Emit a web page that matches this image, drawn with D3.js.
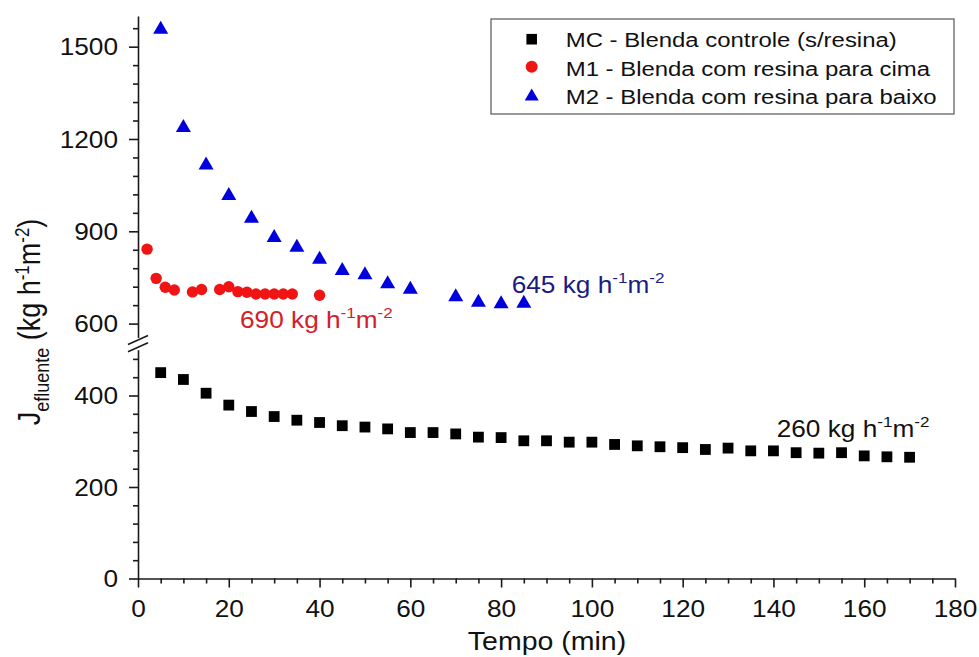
<!DOCTYPE html>
<html>
<head>
<meta charset="utf-8">
<script src="https://cdn.jsdelivr.net/npm/d3@7"></script>
<style>
  html, body { margin: 0; padding: 0; background: #fff; }
  svg { display: block; font-family: Arial, "Liberation Sans", sans-serif; }
</style>
</head>
<body>
<svg id="chart" width="979" height="657"></svg>
<script>
// ---------------- data ----------------
const mcTime = [5,10,15,20,25,30,35,40,45,50,55,60,65,70,75,80,85,90,95,100,105,110,115,120,125,130,135,140,145,150,155,160,165,170];
const mcFlux = [450,435,405,379,365,354,346,341,334,331,327,319,319,316,309,308,301,301,298,298,293,290,288,286,282,285,279,279,275,274,275,268,266,265];

const m1Time = [2,4,6,8,12,14,18,20,22,24,26,28,30,32,34,40];
const m1Flux = [842,747,718,709,703,711,711,720,704,702,696,696,696,696,696,692];

const m2Time = [5,10,15,20,25,30,35,40,45,50,55,60,70,75,80,85];
const m2Flux = [1556,1237,1115,1016,942,879,848,809,772,758,729,711,687,669,664,666];

const seriesNames = ["MC - Blenda controle (s/resina)", "M1 - Blenda com resina para cima", "M2 - Blenda com resina para baixo"];
const seriesColors = ["#000000", "#f01414", "#0000dd"];

const xTicks = [0,20,40,60,80,100,120,140,160,180];
const xMinorTicks = [5,10,15,25,30,35,45,50,55,65,70,75,85,90,95,105,110,115,125,130,135,145,150,155,165,170,175];
const yLowTicks = [0,200,400];
const yLowMinor = [40,80,120,160,240,280,320,360,440,480];
const yHighTicks = [600,900,1200,1500];
const yHighMinor = [660,720,780,840,960,1020,1080,1140,1260,1320,1380,1440,1560];

const annotations = [
  {value: "690", color: "#d42027"},
  {value: "645", color: "#1b1b82"},
  {value: "260", color: "#111111"}
];

// ---------------- layout ----------------
const SX = 1.14; // horizontal glyph stretch seen in the reference
const svg = d3.select("#chart");
svg.append("rect").attr("width", 979).attr("height", 657).attr("fill", "#fff");

const x = d3.scaleLinear().domain([0, 180]).range([138, 955]);
const yLow = d3.scaleLinear().domain([0, 500]).range([578.5, 349.75]);
const yHigh = d3.scaleLinear().domain([555, 1600]).range([337.45, 15.9]);
const yPos = v => (v >= 530 ? yHigh(v) : yLow(v));

const axisColor = "#1a1a1a";
const fmt = d3.format("d");

function styleAxis(g) {
  g.selectAll("path, line").attr("stroke", axisColor).attr("stroke-width", 1.6);
}

// X axis
const xAxisG = svg.append("g").attr("transform", `translate(0,${yLow(0)})`)
  .call(d3.axisBottom(x).tickValues(xTicks).tickFormat(fmt).tickSize(9).tickSizeOuter(0));
styleAxis(xAxisG);
xAxisG.selectAll("text")
  .attr("y", 0).attr("dy", 0)
  .attr("transform", `translate(0,38) scale(${SX},1)`)
  .attr("font-size", 23).attr("fill", "#111")
  .attr("font-family", "Arial, 'Liberation Sans', sans-serif");
const xMinorG = svg.append("g").attr("transform", `translate(0,${yLow(0)})`)
  .call(d3.axisBottom(x).tickValues(xMinorTicks).tickSize(5).tickFormat(""));
xMinorG.select(".domain").remove();
styleAxis(xMinorG);

// Y axes (broken)
function yAxisPart(scale, majors, minors) {
  const g = svg.append("g").attr("transform", `translate(${x(0)},0)`)
    .call(d3.axisLeft(scale).tickValues(majors).tickFormat(fmt).tickSize(9).tickSizeOuter(0));
  styleAxis(g);
  g.selectAll("text")
    .attr("x", 0).attr("dy", 0)
    .attr("transform", `translate(-20,8.3) scale(${SX},1)`)
    .attr("text-anchor", "end")
    .attr("font-size", 23).attr("fill", "#111")
    .attr("font-family", "Arial, 'Liberation Sans', sans-serif");
  const gm = svg.append("g").attr("transform", `translate(${x(0)},0)`)
    .call(d3.axisLeft(scale).tickValues(minors).tickSize(5).tickFormat(""));
  gm.select(".domain").remove();
  styleAxis(gm);
}
yAxisPart(yLow, yLowTicks, yLowMinor);
yAxisPart(yHigh, yHighTicks, yHighMinor);

// break marks
const breakG = svg.append("g");
[yHigh(555) + 2.5, yLow(500) - 2.5].forEach(yy => {
  breakG.append("line")
    .attr("x1", x(0) - 10).attr("y1", yy + 4.5)
    .attr("x2", x(0) + 10).attr("y2", yy - 4.5)
    .attr("stroke", axisColor).attr("stroke-width", 1.6);
});

// axis titles
svg.append("text")
  .attr("transform", `translate(547,650) scale(${SX},1)`)
  .attr("text-anchor", "middle")
  .attr("font-size", 25).attr("fill", "#111")
  .text("Tempo (min)");

const yTitle = svg.append("text")
  .attr("transform", `translate(40,322) scale(${SX},1) rotate(-90)`)
  .attr("text-anchor", "middle")
  .attr("font-size", 27).attr("fill", "#111");
yTitle.append("tspan").text("J");
yTitle.append("tspan").attr("font-size", 18).attr("dy", 8).text("efluente");
yTitle.append("tspan").attr("dy", -8).text(" (kg h");
yTitle.append("tspan").attr("font-size", 17).attr("dy", -10).text("-1");
yTitle.append("tspan").attr("dy", 10).text("m");
yTitle.append("tspan").attr("font-size", 17).attr("dy", -10).text("-2");
yTitle.append("tspan").attr("dy", 10).text(")");

// ---------------- markers ----------------
const triPath = (w, h) => `M0,${-h * 2 / 3}L${w / 2},${h / 3}L${-w / 2},${h / 3}Z`;

svg.append("g").selectAll("rect").data(mcTime.map((t, i) => [t, mcFlux[i]]))
  .join("rect")
  .attr("x", d => x(d[0]) - 5.4).attr("y", d => yPos(d[1]) - 5.4)
  .attr("width", 10.8).attr("height", 10.8)
  .attr("fill", seriesColors[0]);

svg.append("g").selectAll("circle").data(m1Time.map((t, i) => [t, m1Flux[i]]))
  .join("circle")
  .attr("cx", d => x(d[0])).attr("cy", d => yPos(d[1]))
  .attr("r", 5.7)
  .attr("fill", seriesColors[1]);

svg.append("g").selectAll("path").data(m2Time.map((t, i) => [t, m2Flux[i]]))
  .join("path")
  .attr("d", triPath(15, 13))
  .attr("transform", d => `translate(${x(d[0])},${yPos(d[1])})`)
  .attr("fill", seriesColors[2]);

// ---------------- annotations ----------------
const annPos = [
  {x: 240, y: 328.3},
  {x: 511.7, y: 293.3},
  {x: 776.7, y: 437.3}
];
annotations.forEach((a, i) => {
  const t = svg.append("text")
    .attr("transform", `translate(${annPos[i].x},${annPos[i].y}) scale(${SX},1)`)
    .attr("font-size", 23).attr("fill", a.color);
  t.append("tspan").text(a.value + " kg h");
  t.append("tspan").attr("font-size", 15).attr("dy", -10).text("-1");
  t.append("tspan").attr("dy", 10).text("m");
  t.append("tspan").attr("font-size", 15).attr("dy", -10).text("-2");
});

// ---------------- legend ----------------
const lg = svg.append("g");
lg.append("rect").attr("x", 491).attr("y", 19).attr("width", 463).attr("height", 95)
  .attr("fill", "#fff").attr("stroke", "#555").attr("stroke-width", 1.2);
const rowBase = [46.7, 75.7, 104];
seriesNames.forEach((name, i) => {
  const cy = rowBase[i] - 7.5;
  if (i === 0) {
    lg.append("rect").attr("x", 531.7 - 5.3).attr("y", cy - 5.3).attr("width", 10.6).attr("height", 10.6).attr("fill", seriesColors[0]);
  } else if (i === 1) {
    lg.append("circle").attr("cx", 531.7).attr("cy", cy - 1.5).attr("r", 6).attr("fill", seriesColors[1]);
  } else {
    lg.append("path").attr("d", triPath(14, 12)).attr("transform", `translate(531.7,${cy})`).attr("fill", seriesColors[2]);
  }
  lg.append("text")
    .attr("transform", `translate(565.7,${rowBase[i]}) scale(${SX},1)`)
    .attr("font-size", 21).attr("fill", "#111")
    .text(name);
});
</script>
</body>
</html>
